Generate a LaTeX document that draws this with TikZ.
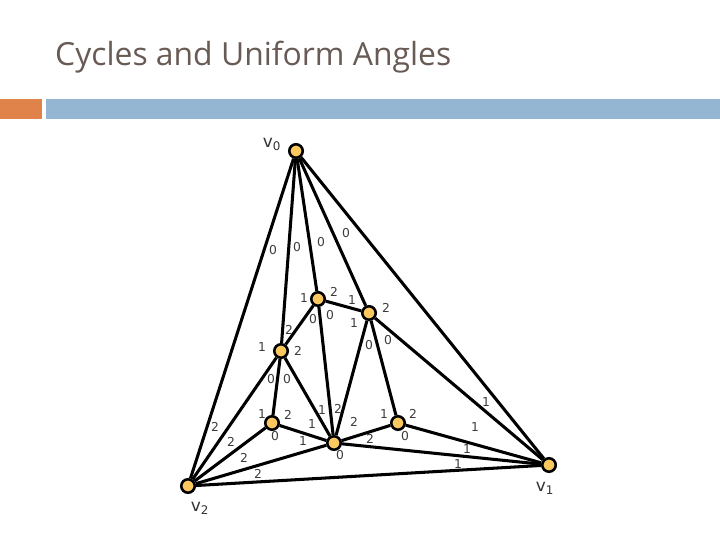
\documentclass[tikz,border=0pt]{standalone}
\usepackage{fontspec}
\setmainfont{DejaVu Sans}
\newfontfamily\titlefont{Open Sans}
\definecolor{TitleGrey}{RGB}{104,90,84}
\definecolor{BarOrange}{RGB}{224,131,75}
\definecolor{BarBlue}{RGB}{148,182,210}
\definecolor{VertexFill}{RGB}{250,200,95}
\definecolor{AngleGrey}{RGB}{60,60,60}
\tikzset{
  vertex/.style={circle, draw=black, fill=VertexFill, line width=2.2pt, inner sep=0pt, minimum size=11.5pt},
  edge/.style={line width=2.6pt, black},
  angle/.style={font=\fontsize{10.5}{11}\selectfont, text=AngleGrey, inner sep=0pt},
  corner/.style={font=\fontsize{14.5}{15}\selectfont, text=black!80, inner sep=0pt}
}
\begin{document}
\begin{tikzpicture}[x=0.03cm, y=-0.03cm]
  \useasboundingbox (0,0) rectangle (720,540);
  \fill[BarOrange] (0,99) rectangle (42,119);
  \fill[BarBlue] (46,99) rectangle (720,119);
  \node[anchor=west, inner sep=0pt, text=TitleGrey, font=\titlefont\fontsize{27.2}{30}\selectfont] (title) at (55,57) {Cycles and Uniform Angles};

  \node[vertex] (v0) at (296,151) {};
  \node[vertex] (v1) at (549,465) {};
  \node[vertex] (v2) at (188,486) {};
  \node[vertex] (a) at (318,299) {};
  \node[vertex] (b) at (369,313) {};
  \node[vertex] (c) at (281,351) {};
  \node[vertex] (d) at (272,423) {};
  \node[vertex] (e) at (334,443) {};
  \node[vertex] (f) at (398,423) {};

  \foreach \s/\t in {v0/v2, v0/c, v0/a, v0/b, v0/v1, a/b, a/c, a/e, b/e, b/f, b/v1, c/v2, c/d, c/e,
                     d/v2, d/e, e/v2, e/f, e/v1, f/v1, v2/v1}
    \draw[edge] (\s) -- (\t);

  \node[corner] (lv0) at (272,144) {v\textsubscript{0}};
  \node[corner] (lv1) at (545,488) {v\textsubscript{1}};
  \node[corner] (lv2) at (200,508) {v\textsubscript{2}};

  \foreach \n/\x/\y/\l in {1/273/250/0, 2/297/247/0, 3/321/242/0, 4/346/233/0,
      5/304/298/1, 6/334/292/2, 7/352/300/1, 8/386/308/2, 9/313/319/0, 10/330/315/0,
      11/354/323/1, 12/369/345/0, 13/388/340/0, 14/289/330/2, 15/262/347/1, 16/298/351/2,
      17/271/379/0, 18/287/379/0, 19/262/414/1, 20/288/415/2, 21/275/436/0, 22/312/424/1,
      23/303/441/1, 24/322/410/1, 25/338/409/2, 26/354/422/2, 27/370/439/2, 28/340/455/0,
      29/384/414/1, 30/413/414/2, 31/405/436/0, 32/475/427/1, 33/486/402/1, 34/467/449/1,
      35/458/464/1, 36/215/427/2, 37/231/442/2, 38/244/458/2, 39/258/474/2}
    \node[angle] (ang\n) at (\x,\y) {\l};
\end{tikzpicture}
\end{document}
